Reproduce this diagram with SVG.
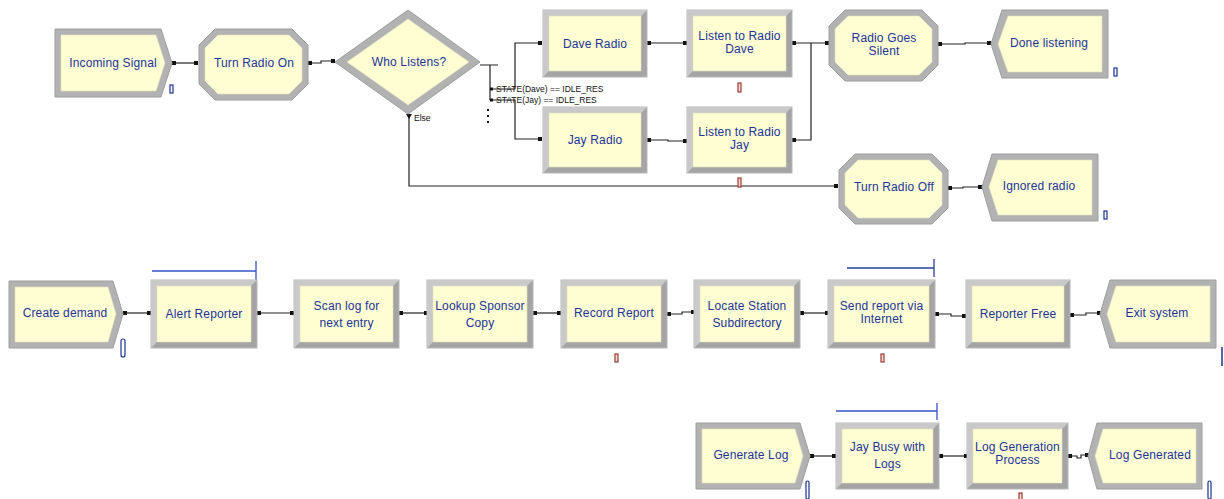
<svg xmlns="http://www.w3.org/2000/svg" width="1224" height="499" viewBox="0 0 1224 499">
<style>
.bo{fill:#A4A4A4;stroke:#B8B8B8;stroke-width:1}
.hl{fill:#C9C9C9}
.sh{fill:#B2B2B2;stroke:#9E9E9E;stroke-width:1}
.in{fill:#FFFDD2;stroke:#E2E0C4;stroke-width:0.6}
.t{font-family:"Liberation Sans",Arial,sans-serif;font-size:12px;fill:#22349A;text-anchor:middle;letter-spacing:0.15px}
.c{fill:none;stroke:#222;stroke-width:1.2}
.d{fill:#111}
.lab{font-family:"Liberation Sans",Arial,sans-serif;font-size:8.5px;fill:#111}
.res{fill:none;stroke:#3355CC;stroke-width:1.3}
.cb{fill:#fff;stroke:#1A3290;stroke-width:1.2}
.cr{fill:#F3DADA;stroke:#9B3A2E;stroke-width:1.2}
</style>
<rect width="1224" height="499" fill="#fff"/>

<g id="connectors">
<path class="c" d="M172,63 H198"/>
<path class="c" d="M308,63 H321 V61 H335"/>
<path class="c" d="M480,65 H498 M490,65 V100"/>
<path class="c" d="M490,89 H515 V43 H541"/>
<path class="c" d="M490,100 H515 V139 H541"/>
<path class="c" d="M409,115 V186 H837"/>
<path class="c" d="M647,43 H686"/>
<path class="c" d="M647,140 H668 V141 H686"/>
<path class="c" d="M792,43 H828 M792,140 H811 V43"/>
<path class="c" d="M939,44 H965 V43 H990"/>
<path class="c" d="M948,188 H963 V187 H981"/>
<path class="c" d="M123,313 H150"/>
<path class="c" d="M257,313 H293"/>
<path class="c" d="M399,313 H427"/>
<path class="c" d="M533,313 H560"/>
<path class="c" d="M667,314 H682 V312 H694"/>
<path class="c" d="M800,313 H828"/>
<path class="c" d="M935,314 H951 V316 H966"/>
<path class="c" d="M1070,315 H1086 V313 H1100"/>
<path class="c" d="M810,456 H835"/>
<path class="c" d="M939,456 H967"/>
<path class="c" d="M1068,456 H1077 V458 H1081 V455 H1088"/>
<g class="d">
<rect x="172" y="61" width="4" height="4"/><rect x="194" y="61" width="4" height="4"/>
<rect x="308" y="61" width="4" height="4"/><rect x="331" y="59" width="4" height="4"/>
<rect x="490" y="87.5" width="3" height="3"/><rect x="490" y="98.5" width="3" height="3"/>
<rect x="538" y="41" width="4" height="4"/><rect x="538" y="137" width="4" height="4"/>
<path d="M406,114 H412 L409,119 Z"/>
<rect x="834" y="184" width="4" height="4"/>
<rect x="647" y="41" width="4" height="4"/><rect x="683" y="41" width="4" height="4"/>
<rect x="647" y="138" width="4" height="4"/><rect x="683" y="139" width="4" height="4"/>
<rect x="792" y="41" width="4" height="4"/><rect x="792" y="138" width="4" height="4"/><rect x="825" y="41" width="4" height="4"/>
<rect x="938" y="42" width="4" height="4"/><rect x="987" y="41" width="4" height="4"/>
<rect x="948" y="186" width="4" height="4"/><rect x="978" y="185" width="4" height="4"/>
<rect x="123" y="311" width="4" height="4"/><rect x="147" y="311" width="4" height="4"/>
<rect x="257" y="311" width="4" height="4"/><rect x="290" y="311" width="4" height="4"/>
<rect x="399" y="311" width="4" height="4"/><rect x="424" y="311" width="4" height="4"/>
<rect x="533" y="311" width="4" height="4"/><rect x="557" y="311" width="4" height="4"/>
<rect x="667" y="312" width="4" height="4"/><rect x="691" y="310" width="4" height="4"/>
<rect x="800" y="311" width="4" height="4"/><rect x="825" y="311" width="4" height="4"/>
<rect x="935" y="312" width="4" height="4"/><rect x="962" y="314" width="4" height="4"/>
<rect x="1070" y="313" width="4" height="4"/><rect x="1097" y="311" width="4" height="4"/>
<rect x="810" y="454" width="4" height="4"/><rect x="832" y="454" width="4" height="4"/>
<rect x="939" y="454" width="4" height="4"/><rect x="964" y="454" width="4" height="4"/>
<rect x="1068" y="454" width="4" height="4"/><rect x="1085" y="453" width="4" height="4"/>
<rect x="487" y="109" width="2" height="2"/><rect x="487" y="115" width="2" height="2"/><rect x="487" y="121" width="2" height="2"/>
</g>
<text class="lab" x="496" y="92">STATE(Dave) == IDLE_RES</text>
<text class="lab" x="496" y="103">STATE(Jay) == IDLE_RES</text>
<text class="lab" x="414" y="121">Else</text>
</g>

<g id="incoming-signal">
<polygon class="sh" points="55,29 161,29 172,63 161,97 55,97"/>
<polygon class="in" points="61,35 156,35 165,63 156,91 61,91"/>
<text class="t" x="113" y="67">Incoming Signal</text>
<rect class="cb" x="170" y="85" width="3" height="8"/>
</g>

<g id="turn-radio-on">
<polygon class="sh" points="215,29 292,29 308,45 308,84 292,100 215,100 199,84 199,45"/>
<polygon class="in" points="218,35 289,35 302,48 302,81 289,94 218,94 205,81 205,48"/>
<text class="t" x="254" y="67">Turn Radio On</text>
</g>

<g id="who-listens">
<polygon class="sh" points="335,62 408,10 480,62 408,114"/>
<polygon class="in" points="347,62 408,19 469,62 408,105"/>
<text class="t" x="409" y="66">Who Listens?</text>
</g>

<g id="dave-radio">
<rect class="bo" x="543" y="10" width="104" height="67"/>
<polygon class="hl" points="543,10 647,10 641,16 549,16 549,71 543,77"/>
<rect class="in" x="549" y="16" width="92" height="55"/>
<text class="t" x="595" y="48">Dave Radio</text>
</g>

<g id="listen-dave">
<rect class="bo" x="687" y="10" width="105" height="67"/>
<polygon class="hl" points="687,10 792,10 786,16 693,16 693,71 687,77"/>
<rect class="in" x="693" y="16" width="93" height="55"/>
<text class="t" x="739.5" y="40">Listen to Radio</text>
<text class="t" x="739.5" y="53">Dave</text>
<rect class="cr" x="738" y="83" width="3" height="9"/>
</g>

<g id="jay-radio">
<rect class="bo" x="543" y="107" width="104" height="66"/>
<polygon class="hl" points="543,107 647,107 641,113 549,113 549,167 543,173"/>
<rect class="in" x="549" y="113" width="92" height="54"/>
<text class="t" x="595" y="144">Jay Radio</text>
</g>

<g id="listen-jay">
<rect class="bo" x="687" y="107" width="105" height="66"/>
<polygon class="hl" points="687,107 792,107 786,113 693,113 693,167 687,173"/>
<rect class="in" x="693" y="113" width="93" height="54"/>
<text class="t" x="739.5" y="136">Listen to Radio</text>
<text class="t" x="739.5" y="149">Jay</text>
<rect class="cr" x="738" y="178" width="3" height="9"/>
</g>

<g id="radio-goes-silent">
<polygon class="sh" points="845,10 922,10 938,26 938,65 922,81 845,81 829,65 829,26"/>
<polygon class="in" points="848,16 919,16 932,29 932,62 919,75 848,75 835,62 835,29"/>
<text class="t" x="884" y="42">Radio Goes</text>
<text class="t" x="884" y="55">Silent</text>
</g>

<g id="done-listening">
<polygon class="sh" points="1002,10 1108,10 1108,78 1002,78 991,44"/>
<polygon class="in" points="1008,16 1102,16 1102,72 1008,72 998,44"/>
<text class="t" x="1049" y="47">Done listening</text>
<rect class="cb" x="1114" y="68" width="3" height="8"/>
</g>

<g id="turn-radio-off">
<polygon class="sh" points="855,154 932,154 948,170 948,208 932,224 855,224 839,208 839,170"/>
<polygon class="in" points="858,160 929,160 942,173 942,205 929,218 858,218 845,205 845,173"/>
<text class="t" x="894" y="191">Turn Radio Off</text>
</g>

<g id="ignored-radio">
<polygon class="sh" points="992,154 1098,154 1098,221 992,221 982,187"/>
<polygon class="in" points="998,160 1092,160 1092,215 998,215 989,187"/>
<text class="t" x="1039" y="190">Ignored radio</text>
<rect class="cb" x="1104" y="211" width="3" height="8"/>
</g>

<g id="create-demand">
<polygon class="sh" points="9,281 113,281 123,314 113,348 9,348"/>
<polygon class="in" points="15,287 108,287 116,314 108,342 15,342"/>
<text class="t" x="65" y="317">Create demand</text>
<rect class="cb" x="121" y="339" width="4" height="18" rx="2"/>
</g>

<g id="alert-reporter">
<path class="res" d="M152,271 H256 M256,261 V281"/>
<rect class="bo" x="151" y="280" width="106" height="68"/>
<polygon class="hl" points="151,280 257,280 251,286 157,286 157,342 151,348"/>
<rect class="in" x="157" y="286" width="94" height="56"/>
<text class="t" x="204" y="318">Alert Reporter</text>
</g>

<g id="scan-log">
<rect class="bo" x="294" y="280" width="105" height="68"/>
<polygon class="hl" points="294,280 399,280 393,286 300,286 300,342 294,348"/>
<rect class="in" x="300" y="286" width="93" height="56"/>
<text class="t" x="346.5" y="310">Scan log for</text>
<text class="t" x="346.5" y="327">next entry</text>
</g>

<g id="lookup-sponsor">
<rect class="bo" x="427" y="280" width="106" height="68"/>
<polygon class="hl" points="427,280 533,280 527,286 433,286 433,342 427,348"/>
<rect class="in" x="433" y="286" width="94" height="56"/>
<text class="t" x="480" y="310">Lookup Sponsor</text>
<text class="t" x="480" y="327">Copy</text>
</g>

<g id="record-report">
<rect class="bo" x="561" y="280" width="106" height="68"/>
<polygon class="hl" points="561,280 667,280 661,286 567,286 567,342 561,348"/>
<rect class="in" x="567" y="286" width="94" height="56"/>
<text class="t" x="614" y="317">Record Report</text>
<rect class="cr" x="615" y="354" width="3" height="8"/>
</g>

<g id="locate-station">
<rect class="bo" x="694" y="280" width="106" height="68"/>
<polygon class="hl" points="694,280 800,280 794,286 700,286 700,342 694,348"/>
<rect class="in" x="700" y="286" width="94" height="56"/>
<text class="t" x="747" y="310">Locate Station</text>
<text class="t" x="747" y="327">Subdirectory</text>
</g>

<g id="send-report">
<path class="res" d="M847,268 H934 M934,259 V277" style="stroke:#2A3F9A"/>
<rect class="bo" x="828" y="280" width="107" height="68"/>
<polygon class="hl" points="828,280 935,280 929,286 834,286 834,342 828,348"/>
<rect class="in" x="834" y="286" width="95" height="56"/>
<text class="t" x="881.5" y="310">Send report via</text>
<text class="t" x="881.5" y="323">Internet</text>
<rect class="cr" x="881" y="354" width="3" height="8"/>
</g>

<g id="reporter-free">
<rect class="bo" x="966" y="280" width="104" height="68"/>
<polygon class="hl" points="966,280 1070,280 1064,286 972,286 972,342 966,348"/>
<rect class="in" x="972" y="286" width="92" height="56"/>
<text class="t" x="1018" y="318">Reporter Free</text>
</g>

<g id="exit-system">
<polygon class="sh" points="1110,280 1216,280 1216,348 1110,348 1100,314"/>
<polygon class="in" points="1116,286 1210,286 1210,342 1116,342 1107,314"/>
<text class="t" x="1157" y="317">Exit system</text>
<path d="M1222,347 V366" stroke="#1A3290" stroke-width="1.5"/>
</g>

<g id="generate-log">
<polygon class="sh" points="696,423 800,423 810,456 800,489 696,489"/>
<polygon class="in" points="702,429 795,429 803,456 795,483 702,483"/>
<text class="t" x="751" y="459">Generate Log</text>
<rect class="cb" x="806" y="481" width="3" height="18" rx="1.5"/>
</g>

<g id="jay-busy">
<path class="res" d="M836,411 H937 M937,403 V420"/>
<rect class="bo" x="836" y="423" width="103" height="66"/>
<polygon class="hl" points="836,423 939,423 933,429 842,429 842,483 836,489"/>
<rect class="in" x="842" y="429" width="91" height="54"/>
<text class="t" x="887.5" y="451">Jay Busy with</text>
<text class="t" x="887.5" y="468">Logs</text>
</g>

<g id="log-generation">
<rect class="bo" x="967" y="423" width="101" height="66"/>
<polygon class="hl" points="967,423 1068,423 1062,429 973,429 973,483 967,489"/>
<rect class="in" x="973" y="429" width="89" height="54"/>
<text class="t" x="1017.5" y="451">Log Generation</text>
<text class="t" x="1017.5" y="464">Process</text>
<rect class="cr" x="1019" y="493" width="3" height="8"/>
</g>

<g id="log-generated">
<polygon class="sh" points="1097,423 1202,423 1202,489 1097,489 1088,456"/>
<polygon class="in" points="1103,429 1196,429 1196,483 1103,483 1095,456"/>
<text class="t" x="1150" y="459">Log Generated</text>
<rect class="cb" x="1208" y="481" width="3" height="18" rx="1.5"/>
</g>
</svg>
